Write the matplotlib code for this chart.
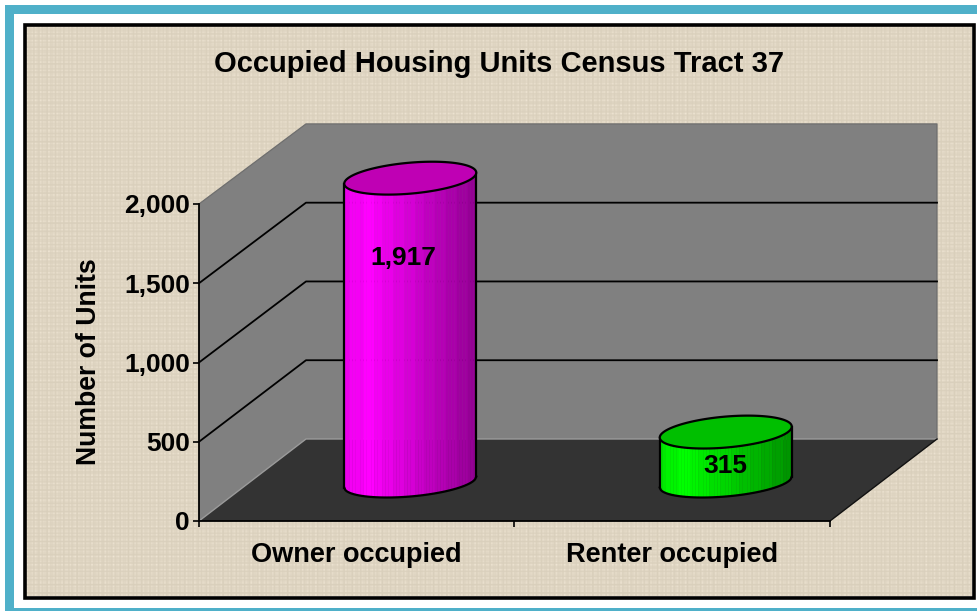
import numpy as np
import matplotlib
matplotlib.use("Agg")
import matplotlib.pyplot as plt
from matplotlib.patches import Polygon, Rectangle
from matplotlib.colors import to_rgb

categories = ["Owner occupied", "Renter occupied"]
units = [1917, 315]
unit_labels = ["1,917", "315"]
y_ticks = [0, 500, 1000, 1500, 2000]
y_tick_labels = ["0", "500", "1,000", "1,500", "2,000"]
title = "Occupied Housing Units Census Tract 37"
y_label = "Number of Units"

W, H = 978, 611
FONT = "Liberation Sans"
plt.rcParams["font.family"] = FONT
plt.rcParams["font.weight"] = "bold"

fig = plt.figure(figsize=(W / 100, H / 100), dpi=100, facecolor="white")

# ---------- page background: border, frame and woven canvas ----------
bg = fig.add_axes([0, 0, 1, 1], zorder=0)
bg.axis("off")
teal = "#4fb0c9"
yy, xx = np.mgrid[0:570, 0:946]
def threads(c):
    return (np.sin(c * 2 * np.pi / 4.3) + 0.6 * np.sin(c * 2 * np.pi / 2.7)
            + 0.5 * np.sin(c * 2 * np.pi / 61.0) * np.sin(c * 2 * np.pi / 7.1))
shade = (threads(xx) + threads(yy)) * 3.0 + 1.5 * threads(xx) * threads(yy)
tex = np.stack([223 + shade, 213 + shade, 194 + shade * 1.1], axis=-1)
tex = np.clip(tex, 0, 255).astype(np.uint8)
bg.imshow(tex, extent=(26, 972, 596, 26), interpolation="nearest", aspect="auto", zorder=1)
bg.set_xlim(0, W)
bg.set_ylim(H, 0)
bg.add_patch(Rectangle((5, 5), W - 5, 8.5, fc=teal, ec="none"))
bg.add_patch(Rectangle((5, 5), 8.5, H - 5, fc=teal, ec="none"))
bg.add_patch(Rectangle((5, 608), W - 5, 3, fc=teal, ec="none"))
bg.add_patch(Rectangle((24.5, 24.5), 949, 573, fc="none", ec="black", lw=2.6, zorder=2))

# ---------- chart axes: data scale is the front plane of the 3-D box ----------
L, R, B, T = 199, 830, 521, 204
ax = fig.add_axes([L / W, (H - B) / H, (R - L) / W, (B - T) / H], zorder=1)
ax.patch.set_alpha(0)
ax.set_xlim(0, 2)
ax.set_ylim(0, 2000)
sx = 2 / (R - L)   # data per pixel
sy = 2000 / (B - T)
DX, DY = 107 * sx, 82 * sy  # depth of the box
BACK = 0.994                # back wall is very slightly foreshortened

ymax = y_ticks[-1]
wall = "#808080"
top_back = ymax * BACK + DY
ax.add_patch(Polygon([(DX, DY), (2 + DX, DY), (2 + DX, top_back), (DX, top_back)],
                     fc=wall, ec="none", clip_on=False, zorder=1))
ax.add_patch(Polygon([(0, 0), (DX, DY), (DX, top_back), (0, ymax)],
                     fc=wall, ec="none", clip_on=False, zorder=1))
ax.add_patch(Polygon([(0, 0), (2, 0), (2 + DX, DY), (DX, DY)],
                     fc="#333333", ec="none", clip_on=False, zorder=1))
ax.plot([0, DX, 2 + DX, 2 + DX], [ymax, top_back, top_back, DY], color="#6e6e6e", lw=0.9, clip_on=False, zorder=2)
ax.plot([0, DX, 2 + DX], [0, DY, DY], color="#9a9a9a", lw=1.0, clip_on=False, zorder=2)
ax.plot([2, 2 + DX], [0, DY], color="#111111", lw=1.0, clip_on=False, zorder=2)
for v in y_ticks[1:-1]:
    ax.plot([0, DX, 2 + DX], [v, v * BACK + DY, v * BACK + DY], color="black", lw=1.3, clip_on=False, zorder=2)

# ---------- cylinders ----------
def shade_color(base, u):
    base = np.array(to_rgb(base))
    if u < 0.17:
        k = 0.92 + 0.08 * u / 0.17
    else:
        k = 1.0 - 0.44 * (u - 0.17) / 0.83
    k = round(k * 24) / 24
    return tuple(base * k)

half_w = 66 * sx
ell_b = 15.5 * sy
base_ell_b = 14.5 * sy
tilt = 5.5 * sy
base_y = 39 * sy
n = 48

def cylinder(cx, v, side_col, top_col):
    t = np.linspace(0, 2 * np.pi, 200)
    ex, ey = np.cos(t), np.sin(t)
    edges = np.linspace(-1, 1, n + 1)
    for i in range(n):
        a, b = edges[i], edges[i + 1]
        xs = np.array([a, b])
        lower = base_y + tilt * xs - base_ell_b * np.sqrt(1 - xs ** 2)
        upper = base_y + v + tilt * xs
        col = shade_color(side_col, (a + 1) / 2)
        ax.add_patch(Polygon([(cx + a * half_w, lower[0]), (cx + b * half_w, lower[1]),
                              (cx + b * half_w, upper[1]), (cx + a * half_w, upper[0])],
                             fc=col, ec=col, lw=0.3, clip_on=False, zorder=3))
    xs = np.linspace(-1, 1, 120)
    ax.plot(cx + xs * half_w, base_y + tilt * xs - base_ell_b * np.sqrt(1 - xs ** 2), color="black", lw=1.6,
            clip_on=False, zorder=4)
    ax.plot([cx - half_w] * 2, [base_y - tilt, base_y + v - tilt], color="black", lw=1.6, clip_on=False, zorder=4)
    ax.plot([cx + half_w] * 2, [base_y + tilt, base_y + v + tilt], color="black", lw=1.6, clip_on=False, zorder=4)
    ax.add_patch(Polygon(np.column_stack([cx + ex * half_w, base_y + v + tilt * ex + ell_b * ey]),
                         fc=top_col, ec="black", lw=1.6, clip_on=False, zorder=5))

centers = [0.5 + DX / 2, 1.5 + DX / 2]
side_cols = ["#ff00ff", "#00ff00"]
top_cols = ["#bf00b4", "#00bf00"]
for cx, v, sc, tc in zip(centers, units, side_cols, top_cols):
    cylinder(cx, v, sc, tc)

label_dx = [-7 * sx, 0 * sx]
label_drop = [80 * sy, 33.5 * sy]
for cx, v, s, dx, dp in zip(centers, units, unit_labels, label_dx, label_drop):
    ax.text(cx + dx, base_y + v - dp, s, ha="center", va="center", fontsize=19, fontweight="bold",
            color="black", zorder=6, clip_on=False)

# ---------- axes furniture ----------
for side in ("top", "right"):
    ax.spines[side].set_visible(False)
for side in ("left", "bottom"):
    ax.spines[side].set_linewidth(1.3)
    ax.spines[side].set_zorder(7)
ax.set_yticks(y_ticks)
ax.set_yticklabels(y_tick_labels, fontsize=19, fontweight="bold")
ax.set_xticks([0, 1, 2])
ax.set_xticklabels([])
ax.set_xticks([0.5, 1.5], minor=True)
ax.set_xticklabels(categories, minor=True, fontsize=19.5, fontweight="bold")
ax.tick_params(axis="y", length=4, width=1.2, pad=2.5)
ax.tick_params(axis="x", which="major", length=4, width=1.2)
ax.tick_params(axis="x", which="minor", length=0, pad=15)

bg.text(499, 63.5, title, ha="center", va="center", fontsize=21, fontweight="bold", color="black")
bg.text(89, 362, y_label, ha="center", va="center", rotation=90, fontsize=19.2, fontweight="bold", color="black")

fig.savefig("out.png", dpi=100, facecolor="white")
